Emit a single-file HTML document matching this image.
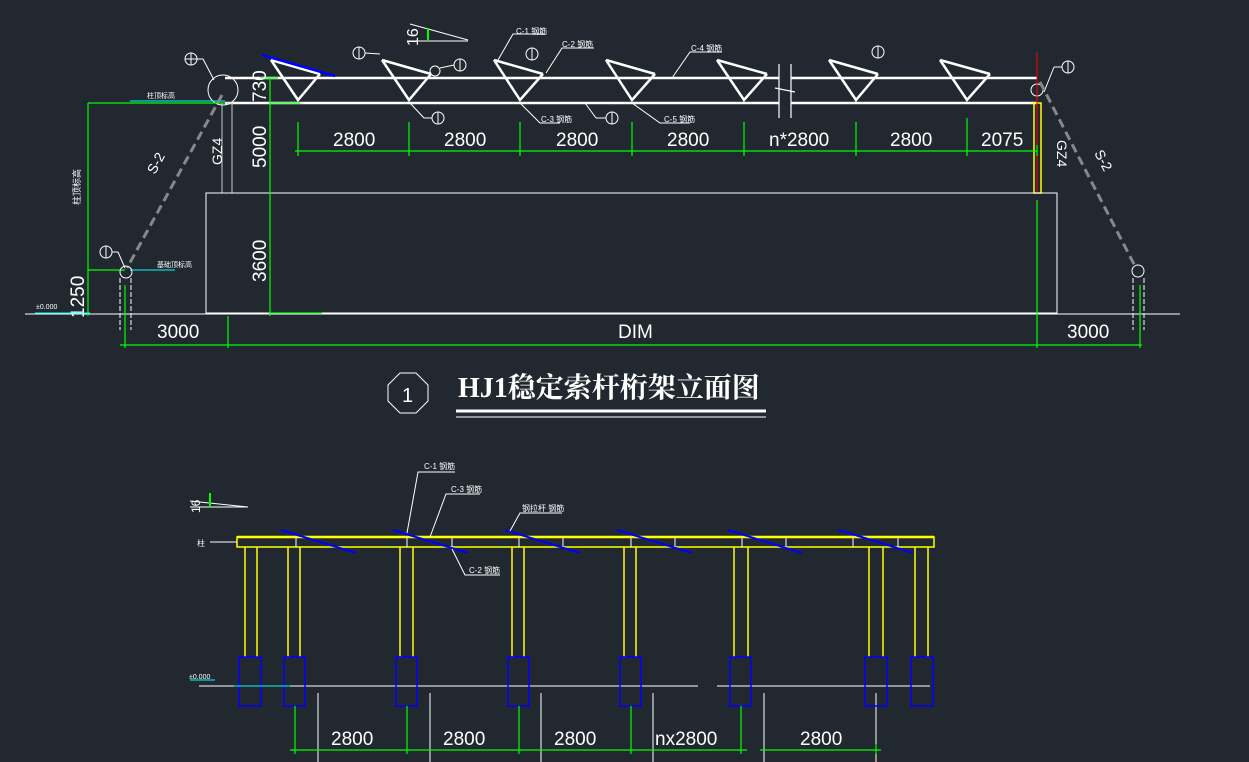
<!DOCTYPE html>
<html><head><meta charset="utf-8"><style>
html,body{margin:0;padding:0;background:#212830;}
svg{display:block}
text{font-family:"Liberation Sans","Noto Sans CJK SC",sans-serif;fill:#fff}
</style></head><body>
<svg width="1249" height="762" viewBox="0 0 1249 762" xmlns="http://www.w3.org/2000/svg">
<rect width="1249" height="762" fill="#212830"/>
<!-- ============ TOP ELEVATION ============ -->
<line x1="225" y1="78" x2="779" y2="78" stroke="#fff" stroke-width="2.5"/>
<line x1="791" y1="78" x2="1037" y2="78" stroke="#fff" stroke-width="2.5"/>
<line x1="225" y1="103" x2="779" y2="103" stroke="#fff" stroke-width="2.5"/>
<line x1="791" y1="103" x2="1037" y2="103" stroke="#fff" stroke-width="2.5"/>
<g stroke="#fff" stroke-width="1.2">
<line x1="779" y1="64" x2="779" y2="118"/><line x1="791" y1="64" x2="791" y2="118"/>
<line x1="775" y1="88" x2="795" y2="92"/>
</g>
<g stroke="#fff" stroke-width="2.5" fill="none">
<polyline points="271,60 298,100 320,74"/><line x1="271" y1="60" x2="320" y2="74"/>
<polyline points="382,60 409,100 431,74"/><line x1="382" y1="60" x2="431" y2="74"/>
<polyline points="494,60 520,100 543,74"/><line x1="494" y1="60" x2="543" y2="74"/>
<polyline points="606,60 632,100 655,74"/><line x1="606" y1="60" x2="655" y2="74"/>
<polyline points="717,60 744,100 767,74"/><line x1="717" y1="60" x2="767" y2="74"/>
<polyline points="829,60 856,100 878,74"/><line x1="829" y1="60" x2="878" y2="74"/>
<polyline points="940,60 967,100 990,74"/><line x1="940" y1="60" x2="990" y2="74"/>
</g>
<line x1="262" y1="55" x2="335" y2="76" stroke="#0000ff" stroke-width="2.5"/>
<g stroke="#fff" stroke-width="1" fill="none">
<circle cx="191" cy="59" r="6"/><line x1="185" y1="59" x2="197" y2="59"/><line x1="191" y1="53" x2="191" y2="65"/><line x1="197" y1="59" x2="203" y2="59"/><line x1="203" y1="59" x2="214" y2="80"/>
<circle cx="223" cy="90" r="15"/>
<circle cx="359" cy="53" r="6"/><line x1="359" y1="47" x2="359" y2="59"/><line x1="365" y1="53" x2="380" y2="54"/>
<circle cx="460" cy="65" r="6"/><line x1="460" y1="59" x2="460" y2="71"/><line x1="454" y1="65" x2="440" y2="68"/><circle cx="435" cy="71" r="5"/>
<circle cx="438" cy="118" r="6"/><line x1="438" y1="112" x2="438" y2="124"/><line x1="432" y1="118" x2="424" y2="118"/><line x1="424" y1="118" x2="410" y2="103"/>
<circle cx="612" cy="118" r="6"/><line x1="612" y1="112" x2="612" y2="124"/><line x1="606" y1="118" x2="596" y2="118"/><line x1="596" y1="118" x2="585" y2="103"/>
<circle cx="532" cy="54" r="6"/><line x1="532" y1="48" x2="532" y2="60"/>
<circle cx="878" cy="52" r="6"/><line x1="878" y1="46" x2="878" y2="58"/>
<circle cx="1068" cy="67" r="6"/><line x1="1068" y1="61" x2="1068" y2="73"/><line x1="1062" y1="67" x2="1054" y2="67"/><line x1="1054" y1="67" x2="1044" y2="92"/>
<circle cx="1037" cy="90" r="6"/>
<circle cx="106" cy="252" r="6"/><line x1="106" y1="246" x2="106" y2="258"/><line x1="112" y1="252" x2="118" y2="252"/><line x1="118" y1="252" x2="125" y2="268"/>
<polyline points="498,60 513,34 545,34"/>
<polyline points="546,73 562,48 594,48"/>
<polyline points="672,78 690,52 722,52"/>
<polyline points="520,103 540,123 560,123"/>
<polyline points="632,103 660,123 690,123"/>
</g>
<g font-size="8">
<text x="516" y="34">C-1 钢筋</text><text x="562" y="47">C-2 钢筋</text>
<text x="691" y="51">C-4 钢筋</text><text x="541" y="122">C-3 钢筋</text><text x="664" y="122">C-5 钢筋</text>
</g>
<g stroke="#fff" stroke-width="1" fill="none">
<line x1="410" y1="24" x2="468" y2="40"/><line x1="407" y1="41" x2="468" y2="41"/>
</g>
<line x1="428" y1="28" x2="428" y2="40" stroke="#00ff00" stroke-width="2"/>
<text x="0" y="0" font-size="16" transform="translate(418,46) rotate(-90)">16</text>
<rect x="222" y="103" width="10" height="90" fill="none" stroke="#ccc" stroke-width="1"/>
<rect x="1034" y="103" width="7" height="90" fill="none" stroke="#ffff00" stroke-width="1.5"/>
<line x1="1037" y1="52" x2="1037" y2="193" stroke="#ff0000" stroke-width="1"/>
<text font-size="14" transform="translate(222,165) rotate(-90)">GZ4</text>
<text font-size="14" transform="translate(1057,140) rotate(90)">GZ4</text>
<rect x="206" y="193" width="851" height="120" fill="none" stroke="#fff" stroke-width="1"/>
<line x1="25" y1="314" x2="1180" y2="314" stroke="#fff" stroke-width="1"/>
<g stroke="#00ff00" stroke-width="1.2">
<line x1="295" y1="151" x2="1037" y2="151"/>
<line x1="298" y1="122" x2="298" y2="156"/><line x1="409" y1="122" x2="409" y2="156"/>
<line x1="520" y1="122" x2="520" y2="156"/><line x1="632" y1="122" x2="632" y2="156"/>
<line x1="744" y1="122" x2="744" y2="156"/><line x1="856" y1="122" x2="856" y2="156"/>
<line x1="967" y1="118" x2="967" y2="156"/><line x1="1037" y1="145" x2="1037" y2="156"/>
<line x1="270" y1="78" x2="270" y2="316"/><line x1="260" y1="78" x2="278" y2="78"/>
<line x1="270" y1="103" x2="300" y2="103"/><line x1="270" y1="313" x2="322" y2="313"/>
<line x1="88" y1="103" x2="88" y2="316"/><line x1="88" y1="103" x2="225" y2="103"/>
<line x1="88" y1="270" x2="125" y2="270"/>
<line x1="120" y1="345" x2="1142" y2="345"/>
<line x1="125" y1="285" x2="125" y2="348"/><line x1="228" y1="316" x2="228" y2="348"/>
<line x1="1037" y1="200" x2="1037" y2="348"/><line x1="1140" y1="285" x2="1140" y2="348"/>
</g>
<g font-size="19">
<text x="333" y="146">2800</text><text x="444" y="146">2800</text><text x="556" y="146">2800</text>
<text x="667" y="146">2800</text><text x="769" y="146">n*2800</text><text x="890" y="146">2800</text>
<text x="981" y="146">2075</text>
<text x="157" y="338">3000</text><text x="618" y="338">DIM</text><text x="1067" y="338">3000</text>
<text transform="translate(266,102) rotate(-90)">730</text>
<text transform="translate(266,168) rotate(-90)">5000</text>
<text transform="translate(266,282) rotate(-90)">3600</text>
<text transform="translate(84,318) rotate(-90)">1250</text>
</g>
<text font-size="9" transform="translate(80,205) rotate(-90)">柱顶标高</text>
<g stroke="#00ffff" stroke-width="1">
<line x1="130" y1="101" x2="225" y2="101"/><line x1="130" y1="270" x2="175" y2="270"/>
<line x1="35" y1="313" x2="90" y2="313"/>
</g>
<g font-size="7"><text x="147" y="98">柱顶标高</text><text x="157" y="267">基础顶标高</text><text x="36" y="309">±0.000</text></g>
<line x1="222" y1="95" x2="127" y2="268" stroke="#888" stroke-width="3" stroke-dasharray="9,5"/>
<line x1="1040" y1="82" x2="1136" y2="268" stroke="#888" stroke-width="3" stroke-dasharray="9,5"/>
<text font-size="14" transform="translate(155,175) rotate(-62)">S-2</text>
<text font-size="14" transform="translate(1094,153) rotate(62)">S-2</text>
<g stroke="#fff" stroke-width="1" fill="none">
<circle cx="126" cy="272" r="6"/><circle cx="1138" cy="271" r="6"/>
<line x1="120" y1="278" x2="120" y2="330" stroke-dasharray="5,2"/><line x1="131" y1="278" x2="131" y2="330" stroke-dasharray="5,2"/>
<line x1="1133" y1="278" x2="1133" y2="330" stroke-dasharray="5,2"/><line x1="1144" y1="278" x2="1144" y2="330" stroke-dasharray="5,2"/>
</g>
<polygon points="400,373 416,373 428,385 428,401 416,413 400,413 388,401 388,385" fill="none" stroke="#fff" stroke-width="1"/>
<text x="402" y="402" font-size="20">1</text>
<text x="458" y="397" font-size="28" font-weight="bold" style="font-family:'Liberation Serif','Noto Serif CJK SC',serif">HJ1稳定索杆桁架立面图</text>
<line x1="456" y1="411" x2="766" y2="411" stroke="#fff" stroke-width="3"/>
<line x1="456" y1="417" x2="766" y2="417" stroke="#fff" stroke-width="1"/>
<!-- ============ BOTTOM ============ -->
<rect x="237" y="537" width="697" height="10" fill="none" stroke="#ffff00" stroke-width="1.5"/>
<line x1="237" y1="537" x2="934" y2="537" stroke="#ffff00" stroke-width="2.5"/>
<line x1="210" y1="542" x2="237" y2="542" stroke="#fff" stroke-width="1"/>
<text x="197" y="546" font-size="8">柱</text>
<g stroke="#ffff00" stroke-width="1.5">
<line x1="245" y1="547" x2="245" y2="657"/><line x1="257" y1="547" x2="257" y2="657"/>
<line x1="288" y1="547" x2="288" y2="657"/><line x1="300" y1="547" x2="300" y2="657"/>
<line x1="400" y1="547" x2="400" y2="657"/><line x1="413" y1="547" x2="413" y2="657"/>
<line x1="512" y1="547" x2="512" y2="657"/><line x1="524" y1="547" x2="524" y2="657"/>
<line x1="624" y1="547" x2="624" y2="657"/><line x1="636" y1="547" x2="636" y2="657"/>
<line x1="734" y1="547" x2="734" y2="657"/><line x1="748" y1="547" x2="748" y2="657"/>
<line x1="869" y1="547" x2="869" y2="657"/><line x1="883" y1="547" x2="883" y2="657"/>
<line x1="915" y1="547" x2="915" y2="657"/><line x1="928" y1="547" x2="928" y2="657"/>
</g>
<g stroke="#fff" stroke-width="1">
<line x1="199" y1="686" x2="698" y2="686"/><line x1="717" y1="686" x2="930" y2="686"/>
<line x1="296" y1="537" x2="296" y2="547"/><line x1="407" y1="537" x2="407" y2="547"/>
<line x1="452" y1="537" x2="452" y2="547"/><line x1="519" y1="537" x2="519" y2="547"/>
<line x1="563" y1="537" x2="563" y2="547"/><line x1="631" y1="537" x2="631" y2="547"/>
<line x1="675" y1="537" x2="675" y2="547"/><line x1="742" y1="537" x2="742" y2="547"/>
<line x1="786" y1="537" x2="786" y2="547"/><line x1="853" y1="537" x2="853" y2="547"/>
<line x1="898" y1="537" x2="898" y2="547"/>
<line x1="318" y1="693" x2="318" y2="762"/><line x1="430" y1="693" x2="430" y2="762"/>
<line x1="541" y1="693" x2="541" y2="762"/><line x1="653" y1="693" x2="653" y2="762"/>
<line x1="764" y1="693" x2="764" y2="762"/><line x1="876" y1="693" x2="876" y2="762"/>
</g>
<g stroke="#0000ff" stroke-width="2">
<line x1="281" y1="530" x2="356" y2="553"/><line x1="393" y1="530" x2="468" y2="553"/>
<line x1="505" y1="530" x2="580" y2="553"/><line x1="617" y1="530" x2="692" y2="553"/>
<line x1="728" y1="530" x2="802" y2="553"/><line x1="839" y1="530" x2="913" y2="553"/>
<g fill="none" stroke-width="1.5">
<rect x="239" y="657" width="22" height="49"/><rect x="284" y="657" width="21" height="49"/>
<rect x="396" y="657" width="21" height="49"/><rect x="508" y="657" width="21" height="49"/>
<rect x="620" y="657" width="21" height="49"/><rect x="730" y="657" width="21" height="49"/>
<rect x="865" y="657" width="22" height="49"/><rect x="911" y="657" width="22" height="49"/>
</g></g>
<g stroke="#00ffff" stroke-width="1"><line x1="234" y1="686" x2="290" y2="686"/><line x1="190" y1="680" x2="215" y2="680"/></g>
<text x="189" y="679" font-size="7">±0.000</text>
<g stroke="#fff" stroke-width="1" fill="none">
<polyline points="407,533 418,472 455,472"/>
<polyline points="430,537 446,494 480,494"/>
<polyline points="510,531 520,513 562,513"/>
<polyline points="452,549 465,575 500,575"/>
<line x1="190" y1="507" x2="248" y2="507"/><line x1="190" y1="501" x2="248" y2="507"/>
</g>
<line x1="210" y1="493" x2="210" y2="507" stroke="#00ff00" stroke-width="2"/>
<text font-size="12" transform="translate(200,513) rotate(-90)">16</text>
<g font-size="8"><text x="424" y="469">C-1 钢筋</text><text x="451" y="492">C-3 钢筋</text><text x="522" y="511">钢拉杆 钢筋</text><text x="469" y="573">C-2 钢筋</text></g>
<g stroke="#00ff00" stroke-width="1.2">
<line x1="290" y1="750" x2="747" y2="750"/><line x1="760" y1="750" x2="881" y2="750"/>
<line x1="295" y1="706" x2="295" y2="754"/><line x1="407" y1="706" x2="407" y2="754"/>
<line x1="519" y1="706" x2="519" y2="754"/><line x1="631" y1="706" x2="631" y2="754"/>
<line x1="741" y1="706" x2="741" y2="754"/><line x1="876" y1="744" x2="876" y2="754"/>
</g>
<g font-size="19">
<text x="331" y="745">2800</text><text x="443" y="745">2800</text><text x="554" y="745">2800</text>
<text x="655" y="745">nx2800</text><text x="800" y="745">2800</text>
</g>
</svg>
</body></html>
